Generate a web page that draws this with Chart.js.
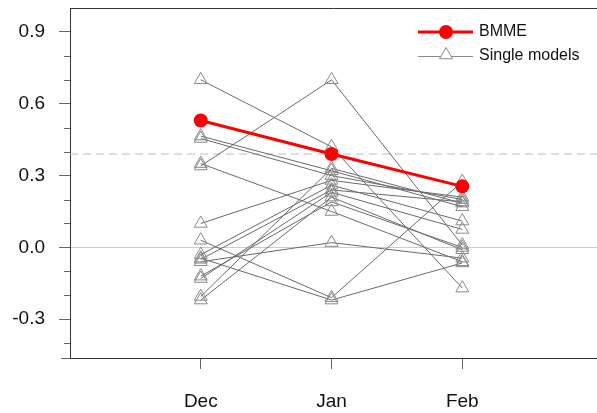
<!DOCTYPE html>
<html>
<head>
<meta charset="utf-8">
<script src="https://cdn.jsdelivr.net/npm/chart.js@4"></script>
<style>
  html, body { margin: 0; padding: 0; background: #fff; }
  #wrap { width: 597px; height: 413px; }
</style>
</head>
<body>
<div id="wrap"><canvas id="chart" width="597" height="413"></canvas></div>
<script>
// categories and values
const months = ['Dec', 'Jan', 'Feb'];
const bmme = [0.53, 0.39, 0.255];
// one row per single model: [Dec, Jan, Feb]
const singleModels = [
    [0.70, 0.42, -0.17],
    [0.34, 0.70, 0.01],
    [0.465, 0.32, 0.17],
    [0.455, 0.30, 0.20],
    [0.35, 0.15, -0.06],
    [0.10, 0.28, 0.21],
    [0.03, -0.21, 0.275],
    [-0.03, 0.26, 0.11],
    [-0.045, -0.22, -0.065],
    [-0.05, 0.24, 0.19],
    [-0.06, 0.02, -0.045],
    [-0.13, 0.23, 0.075],
    [-0.205, 0.33, 0.185],
    [-0.22, 0.21, -0.01],
    [-0.12, 0.19, 0.0]
];
const refValue = 0.39;
const yMajorTicks = [-0.3, 0.0, 0.3, 0.6, 0.9];
const yMinorTicks = [-0.4, -0.2, -0.1, 0.1, 0.2, 0.4, 0.5, 0.7, 0.8];

const X_MIN = 0, X_MAX = 4.03;
const FONT = '"Liberation Sans", Arial, Helvetica, sans-serif';

function toPoints(vals) {
    return vals.map((v, i) => ({ x: i + 1, y: v }));
}

const datasets = [];
datasets.push({
    label: 'BMME',
    data: toPoints(bmme),
    borderColor: '#ff0000',
    backgroundColor: '#ff0000',
    borderWidth: 3,
    pointStyle: 'circle',
    pointRadius: 7,
    pointBorderWidth: 0,
    pointBackgroundColor: '#ff0000'
});
singleModels.forEach((row, i) => {
    datasets.push({
        label: 'model' + (i + 1),
        data: toPoints(row),
        borderColor: '#6a6a6a',
        borderWidth: 1,
        pointStyle: 'triangle',
        pointRadius: 7.5,
        pointBorderWidth: 1,
        pointBorderColor: '#8a8a8a',
        pointBackgroundColor: 'rgba(0,0,0,0)'
    });
});
datasets.push({
    label: 'ref',
    data: [{ x: X_MIN, y: refValue }, { x: X_MAX, y: refValue }],
    borderColor: '#bdbdbd',
    borderWidth: 1,
    borderDash: [8, 5],
    pointRadius: 0
});

// minor y ticks, top frame line and the legend
const extras = {
    id: 'extras',
    afterDraw(chart) {
        const ctx = chart.ctx;
        const area = chart.chartArea;
        const y = chart.scales.y;
        ctx.save();
        ctx.strokeStyle = '#666';
        ctx.lineWidth = 1;
        yMinorTicks.forEach(v => {
            const py = Math.round(y.getPixelForValue(v)) + 0.5;
            ctx.beginPath();
            ctx.moveTo(area.left - 6, py);
            ctx.lineTo(area.left, py);
            ctx.stroke();
        });
        // bottom frame line runs a little past the left axis
        const pb = Math.round(area.bottom) + 0.5;
        ctx.beginPath();
        ctx.moveTo(area.left - 9, pb);
        ctx.lineTo(area.left, pb);
        ctx.stroke();

        ctx.strokeStyle = '#333';
        ctx.beginPath();
        ctx.moveTo(area.left, Math.round(area.top) + 0.5);
        ctx.lineTo(area.right, Math.round(area.top) + 0.5);
        ctx.stroke();

        // legend
        const lx0 = 418, lx1 = 473, mid = 446;
        ctx.strokeStyle = '#ff0000';
        ctx.lineWidth = 3;
        ctx.beginPath();
        ctx.moveTo(lx0, 32);
        ctx.lineTo(lx1, 32);
        ctx.stroke();
        ctx.fillStyle = '#ff0000';
        ctx.beginPath();
        ctx.arc(mid, 32, 7, 0, Math.PI * 2);
        ctx.fill();

        ctx.strokeStyle = '#8a8a8a';
        ctx.lineWidth = 1;
        ctx.beginPath();
        ctx.moveTo(lx0, 56.5);
        ctx.lineTo(lx1, 56.5);
        ctx.stroke();
        ctx.fillStyle = '#fff';
        ctx.beginPath();
        const r = 7.5, cy = 55;
        ctx.moveTo(mid, cy - r);
        ctx.lineTo(mid + r * Math.sin(2 * Math.PI / 3), cy - r * Math.cos(2 * Math.PI / 3));
        ctx.lineTo(mid + r * Math.sin(4 * Math.PI / 3), cy - r * Math.cos(4 * Math.PI / 3));
        ctx.closePath();
        ctx.fill();
        ctx.stroke();

        ctx.fillStyle = '#111';
        ctx.font = '16px ' + FONT;
        ctx.textBaseline = 'middle';
        ctx.textAlign = 'left';
        ctx.fillText('BMME', 479, 32);
        ctx.fillText('Single models', 479, 56);
        ctx.restore();
    }
};

function createChart() {
    const ctx = document.getElementById('chart').getContext('2d');
    new Chart(ctx, {
        type: 'line',
        data: { datasets: datasets },
        options: {
            responsive: false,
            animation: false,
            devicePixelRatio: 1,
            layout: { autoPadding: false, padding: { top: 8, right: 0, left: 0, bottom: 0 } },
            plugins: { legend: { display: false }, tooltip: { enabled: false } },
            scales: {
                x: {
                    type: 'linear',
                    min: X_MIN,
                    max: X_MAX,
                    afterBuildTicks: s => { s.ticks = months.map((m, i) => ({ value: i + 1 })); },
                    afterFit: s => {
                        s.height = 55;
                        s.paddingLeft = 0; s.paddingRight = 0;
                        s.paddingTop = 0; s.paddingBottom = 0;
                    },
                    ticks: {
                        callback: v => months[v - 1] || '',
                        font: { size: 19, family: FONT },
                        color: '#111',
                        padding: 21,
                        maxRotation: 0
                    },
                    grid: { drawOnChartArea: false, drawTicks: true, tickLength: 11, color: '#666' },
                    border: { display: true, color: '#333', width: 1 }
                },
                y: {
                    type: 'linear',
                    min: -0.462,
                    max: 1.0,
                    afterBuildTicks: s => { s.ticks = yMajorTicks.map(v => ({ value: v })); },
                    afterFit: s => {
                        s.width = 70;
                        s.paddingLeft = 0; s.paddingRight = 0;
                        s.paddingTop = 0; s.paddingBottom = 0;
                    },
                    ticks: {
                        callback: v => v.toFixed(1),
                        font: { size: 19, family: FONT },
                        color: '#111',
                        padding: 14
                    },
                    grid: {
                        drawTicks: true,
                        tickLength: 11,
                        tickColor: '#666',
                        color: c => (c.tick && c.tick.value === 0 ? '#cccccc' : 'rgba(0,0,0,0)')
                    },
                    border: { display: true, color: '#333', width: 1 }
                }
            }
        },
        plugins: [extras]
    });
}

document.addEventListener('DOMContentLoaded', function () {
    createChart();
});
</script>
</body>
</html>
